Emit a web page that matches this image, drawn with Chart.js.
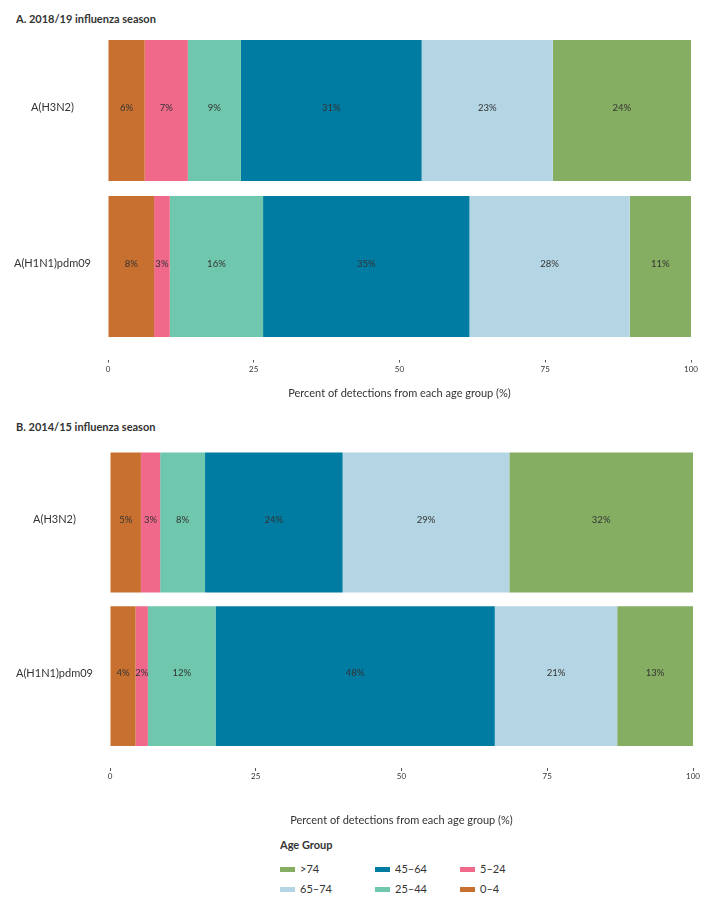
<!DOCTYPE html>
<html><head><meta charset="utf-8">
<script src="https://cdn.jsdelivr.net/npm/chart.js@4.4.1/dist/chart.umd.min.js"></script>
<style>
html,body{margin:0;padding:0;background:#fff;}
#wrap{position:relative;width:728px;height:913px;overflow:hidden;background:#fff;font-family:Lato,"Open Sans",sans-serif;color:#333;}
.ttl{position:absolute;left:16px;font-weight:bold;font-size:11px;line-height:14px;color:#333;}
#cA{position:absolute;left:0;top:0;}
#cB{position:absolute;left:0;top:430px;}
#legTitle{position:absolute;left:280px;top:838px;font-weight:bold;font-size:11px;line-height:14px;}
.li{position:absolute;font-size:11px;line-height:14px;white-space:nowrap;}
.sw{display:inline-block;width:15px;height:5px;vertical-align:middle;margin-right:5px;position:relative;top:-1px;}
</style></head>
<body><div id="wrap">
<div class="ttl" style="top:12px">A. 2018/19 influenza season</div>
<canvas id="cA" width="728" height="410" style="width:728px;height:410px"></canvas>
<div class="ttl" style="top:420px">B. 2014/15 influenza season</div>
<canvas id="cB" width="728" height="405" style="width:728px;height:405px"></canvas>
<div id="legTitle">Age Group</div>
<div id="legend"></div>
</div>
<script>
const categories = ["A(H3N2)", "A(H1N1)pdm09"];
const ageGroups = ["0–4", "5–24", "25–44", "45–64", "65–74", ">74"];
const groupColors = ["#C8702F", "#F0698B", "#6FC7AD", "#007BA1", "#B4D5E4", "#86AE62"];
// 2018/19 season, % per age group: [A(H3N2), A(H1N1)pdm09]
const season1819_0_4   = [6.3, 7.9];
const season1819_5_24  = [7.4, 2.7];
const season1819_25_44 = [9.1, 16.0];
const season1819_45_64 = [31.0, 35.4];
const season1819_65_74 = [22.5, 27.5];
const season1819_gt74  = [23.7, 10.5];
// 2014/15 season
const season1415_0_4   = [5.3, 4.4];
const season1415_5_24  = [3.3, 2.1];
const season1415_25_44 = [7.7, 11.6];
const season1415_45_64 = [23.6, 47.9];
const season1415_65_74 = [28.6, 21.0];
const season1415_gt74  = [31.5, 13.0];
const xTicks = [0, 25, 50, 75, 100];
const xTitle = "Percent of detections from each age group (%)";

const FONT = "Lato, 'Open Sans', sans-serif";

const pctLabels = {
  id: 'pctLabels',
  afterDatasetsDraw(chart) {
    const ctx = chart.ctx;
    ctx.save();
    ctx.font = "9.5px " + FONT;
    ctx.fillStyle = '#333';
    ctx.textAlign = 'center';
    ctx.textBaseline = 'middle';
    chart.data.datasets.forEach((ds, i) => {
      const meta = chart.getDatasetMeta(i);
      meta.data.forEach((el, j) => {
        const p = el.getCenterPoint();
        ctx.fillText(Math.round(ds.data[j]) + '%', p.x, p.y - 3);
      });
    });
    ctx.restore();
  }
};

function makeChart(id, series, cfg) {
  const datasets = series.map((d, i) => ({
    label: ageGroups[i],
    data: d,
    backgroundColor: groupColors[i],
    borderWidth: 0,
    barPercentage: 1,
    categoryPercentage: cfg.catPct
  }));
  return new Chart(document.getElementById(id), {
    type: 'bar',
    data: { labels: categories, datasets },
    plugins: [pctLabels],
    options: {
      indexAxis: 'y',
      responsive: false,
      animation: false,
      devicePixelRatio: 1,
      layout: { padding: { top: cfg.padTop, right: cfg.padRight, left: 0, bottom: 0 } },
      plugins: { legend: { display: false }, tooltip: { enabled: false }, title: { display: false } },
      scales: {
        x: {
          stacked: true, min: 0, max: 100,
          afterBuildTicks: s => { s.ticks = xTicks.map(v => ({ value: v })); },
          grid: { display: true, drawOnChartArea: false, drawTicks: true, tickLength: 18,
                  tickColor: '#555', tickWidth: 1, tickBorderDash: [0, 15, 3, 100] },
          border: { display: false },
          ticks: { padding: cfg.tickPad, color: '#333', font: { family: FONT, size: 8 }, maxRotation: 0 },
          title: { display: true, text: xTitle, color: '#333', font: { family: FONT, size: 11 },
                   padding: { top: cfg.titleTop, bottom: cfg.titleBottom } }
        },
        y: {
          stacked: true,
          afterFit: s => { s.width = cfg.yWidth; },
          grid: { display: false },
          border: { display: false },
          ticks: { crossAlign: 'center', padding: 9, labelOffset: -3, color: '#333',
                   font: { family: FONT, size: 11 } }
        }
      }
    }
  });
}

makeChart('cA', [season1819_0_4, season1819_5_24, season1819_25_44, season1819_45_64, season1819_65_74, season1819_gt74],
  { catPct: 142/157, padTop: 32.5, padRight: 37, yWidth: 108, tickPad: 2, titleTop: 10.3, titleBottom: 10.4 });
makeChart('cB', [season1415_0_4, season1415_5_24, season1415_25_44, season1415_45_64, season1415_65_74, season1415_gt74],
  { catPct: 142/156, padTop: 12, padRight: 35, yWidth: 110, tickPad: 1, titleTop: 30.8, titleBottom: 8.4 });

// legend (column-major: >74, 65–74 | 45–64, 25–44 | 5–24, 0–4)
const legOrder = [5, 4, 3, 2, 1, 0];
const colX = [280, 375, 460];
const rowY = [862, 882];
const leg = document.getElementById('legend');
legOrder.forEach((gi, k) => {
  const c = Math.floor(k / 2), r = k % 2;
  const d = document.createElement('div');
  d.className = 'li';
  d.style.left = colX[c] + 'px';
  d.style.top = rowY[r] + 'px';
  d.innerHTML = '<span class="sw" style="background:' + groupColors[gi] + '"></span>';
  d.appendChild(document.createTextNode(ageGroups[gi]));
  leg.appendChild(d);
});
</script>
</body></html>
